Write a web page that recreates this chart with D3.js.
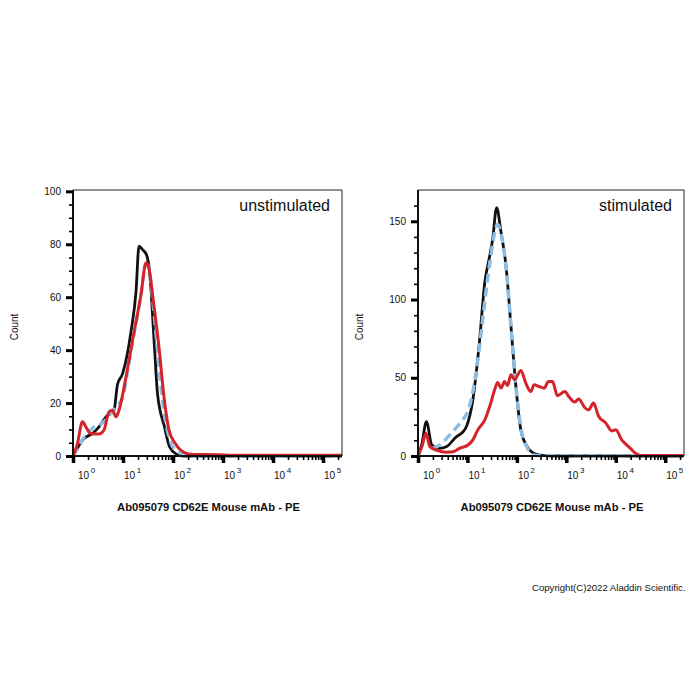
<!DOCTYPE html>
<html>
<head>
<meta charset="utf-8">
<script src="https://cdn.jsdelivr.net/npm/d3@7"></script>
<style>
  body { margin: 0; background: #fff; }
  text { font-family: "Liberation Sans", Arial, sans-serif; fill: #111; }
</style>
</head>
<body>
<svg id="chart" width="700" height="700"></svg>
<script>
// histogram points: [log10 intensity, count]
const unstimBlack = [[0,0],[0.22,6.6],[0.39,8.5],[0.52,11],[0.66,14.8],[0.82,17.3],[0.89,27],[0.99,31],
  [1.16,47],[1.26,62],[1.32,79.3],[1.39,78],[1.47,76],[1.53,70],[1.63,41],[1.69,23.6],[1.83,11],
  [1.93,3.5],[2.06,0.8],[2.2,0],[5.38,0]]
const unstimBlue = [[0,0],[0.1,3],[0.2,6.5],[0.3,8.8],[0.42,11],[0.55,12],[0.65,13.5],[0.75,16],[0.85,18.5],
  [0.99,22],[1.1,33],[1.2,44],[1.36,61],[1.45,72],[1.5,72],[1.6,58],[1.69,40],[1.79,21],[1.89,9.5],
  [2.02,2.8],[2.2,0.8],[2.4,0],[5.38,0]]
const unstimRed = [[0,0],[0.08,4],[0.19,12.9],[0.27,10.5],[0.35,8.5],[0.52,8.3],[0.62,9.8],[0.72,16.7],[0.79,17.3],
  [0.86,14.8],[0.92,17.3],[1.06,29.8],[1.19,43.6],[1.36,61],[1.46,73],[1.51,71.5],[1.61,58],[1.72,41],
  [1.82,22.3],[1.92,9.8],[2.05,4.6],[2.22,1.4],[2.4,0.6],[2.9,0.5],[3.2,0.3],[5.38,0.3]]

const stimBlack = [[0,0],[0.08,8],[0.17,22],[0.28,7],[0.44,4.9],[0.58,6],[0.78,12.4],[0.88,14.5],[0.98,18.8],
  [1.11,36],[1.24,72],[1.35,110.7],[1.45,127.8],[1.51,138.5],[1.59,158.8],[1.68,142.8],[1.78,121.4],
  [1.88,83],[1.98,44.4],[2.08,16.7],[2.21,6],[2.38,1.2],[2.55,0.3],[2.71,0],[5.37,0]]
const stimBlue = [[0.3,5],[0.44,7],[0.67,14.5],[0.85,21],[1.04,31.6],[1.21,61],[1.31,88],[1.45,123],
  [1.61,148],[1.71,137],[1.79,118],[1.88,83],[1.98,45],[2.08,18],[2.2,6],[2.3,1.5],[2.38,0.3],[4.4,0]]
const stimRed = [[0,0],[0.08,6],[0.16,14.5],[0.24,6],[0.37,3.8],[0.58,2.4],[0.71,2.7],[0.84,4.9],[1.01,7],
  [1.11,10.3],[1.21,16.7],[1.35,23],[1.45,31.6],[1.55,42.3],[1.61,47],[1.68,43.4],[1.75,47.6],
  [1.81,45],[1.88,52],[1.95,48.7],[2.08,54.7],[2.18,46.6],[2.28,41.2],[2.35,45.5],[2.45,44.4],
  [2.55,43.4],[2.64,47.6],[2.72,47.6],[2.82,38.5],[2.97,41.2],[3.05,38],[3.17,34.5],[3.25,36.5],
  [3.37,31],[3.45,29.5],[3.55,33.8],[3.65,25.6],[3.8,21],[3.92,16],[4.0,16.7],[4.12,10.3],
  [4.26,6],[4.39,2],[4.52,0.3],[5.37,0.3]]

const decades = [0, 1, 2, 3, 4, 5]
const unstimYMajor = [0, 20, 40, 60, 80, 100]
const stimYMajor = [0, 50, 100, 150]

const svg = d3.select('#chart')
svg.append('rect').attr('width', 700).attr('height', 700).attr('fill', '#fff')

const panels = [
  { left: 73, right: 342, yMax: 100.5, major: unstimYMajor, minorStep: 5, title: 'unstimulated',
    series: [unstimBlack, unstimBlue, unstimRed] },
  { left: 418, right: 684, yMax: 170, major: stimYMajor, minorStep: 10, title: 'stimulated',
    series: [stimBlack, stimBlue, stimRed] }
]
const plotTop = 190, plotBottom = 456
const styles = [
  { stroke: '#111', width: 2.8, dash: null },
  { stroke: '#8dbde3', width: 3.5, dash: '9,5' },
  { stroke: '#d5232a', width: 3, dash: null }
]

panels.forEach((p) => {
  const x = d3.scaleLog().domain([1, Math.pow(10, 5.38)]).range([p.left, p.right])
  const y = d3.scaleLinear().domain([0, p.yMax]).range([plotBottom, plotTop])
  const g = svg.append('g')

  // lines
  const line = d3.line()
    .x((d) => x(Math.pow(10, d[0])))
    .y((d) => y(d[1]))
    .curve(d3.curveMonotoneX)
  p.series.forEach((s, i) => {
    g.append('path')
      .attr('d', line(s))
      .attr('fill', 'none')
      .attr('stroke', styles[i].stroke)
      .attr('stroke-width', styles[i].width)
      .attr('stroke-linejoin', 'round')
      .attr('stroke-dasharray', styles[i].dash)
  })

  // frame
  g.append('line').attr('x1', p.left).attr('x2', p.right).attr('y1', plotTop).attr('y2', plotTop)
    .attr('stroke', '#222').attr('stroke-width', 1)
  g.append('line').attr('x1', p.right).attr('x2', p.right).attr('y1', plotTop).attr('y2', plotBottom)
    .attr('stroke', '#222').attr('stroke-width', 1)
  g.append('line').attr('x1', p.left).attr('x2', p.left).attr('y1', plotTop).attr('y2', plotBottom)
    .attr('stroke', '#111').attr('stroke-width', 2)
  g.append('line').attr('x1', p.left).attr('x2', p.right).attr('y1', plotBottom).attr('y2', plotBottom)
    .attr('stroke', '#111').attr('stroke-width', 2)

  // y axis
  const minor = d3.range(0, p.yMax, p.minorStep).filter((v) => !p.major.includes(v))
  const yMin = g.append('g').attr('transform', `translate(${p.left},0)`)
    .call(d3.axisLeft(y).tickValues(minor).tickSize(4).tickFormat(''))
  yMin.select('.domain').remove()
  yMin.selectAll('line').attr('stroke-width', 1.6)
  const yMaj = g.append('g').attr('transform', `translate(${p.left},0)`)
    .call(d3.axisLeft(y).tickValues(p.major).tickSize(7).tickPadding(5))
  yMaj.select('.domain').remove()
  yMaj.selectAll('line').attr('stroke-width', 3)
  yMaj.selectAll('text').attr('font-size', 10).attr('font-family', '"Liberation Sans", Arial, sans-serif')

  // x axis
  const xMinorVals = []
  decades.forEach((d) => {
    for (let m = 2; m <= 9; m++) {
      const v = m * Math.pow(10, d)
      if (v < x.domain()[1]) xMinorVals.push(v)
    }
  })
  const xMin = g.append('g').attr('transform', `translate(0,${plotBottom})`)
    .call(d3.axisBottom(x).tickValues(xMinorVals).tickSize(4).tickFormat(''))
  xMin.select('.domain').remove()
  xMin.selectAll('line').attr('stroke-width', 1.6)
  const xMaj = g.append('g').attr('transform', `translate(0,${plotBottom})`)
    .call(d3.axisBottom(x).tickValues(decades.map((d) => Math.pow(10, d))).tickSize(7).tickFormat(''))
  xMaj.select('.domain').remove()
  xMaj.selectAll('line').attr('stroke-width', 3.5)

  decades.forEach((d, i) => {
    const t = g.append('text')
      .attr('x', x(Math.pow(10, d)) + (i === 0 ? 5 : 1))
      .attr('y', 479)
      .attr('font-size', 10)
    t.append('tspan').text('10')
    t.append('tspan').attr('dy', -6).attr('dx', 1.5).attr('font-size', 8).text(d)
  })

  // titles
  g.append('text')
    .attr('x', p.right - 12).attr('y', 211)
    .attr('text-anchor', 'end').attr('font-size', 16)
    .text(p.title)
  g.append('text')
    .attr('x', (p.left + p.right) / 2 + 1).attr('y', 511)
    .attr('text-anchor', 'middle').attr('font-size', 11.2).attr('font-weight', 'bold')
    .text('Ab095079 CD62E Mouse mAb - PE')
  g.append('text')
    .attr('transform', `translate(${p.left - 55},327) rotate(-90)`)
    .attr('text-anchor', 'middle').attr('font-size', 10)
    .text('Count')
})

svg.append('text')
  .attr('x', 532).attr('y', 591)
  .attr('font-size', 9.6)
  .text('Copyright(C)2022 Aladdin Scientific.')
</script>
</body>
</html>
